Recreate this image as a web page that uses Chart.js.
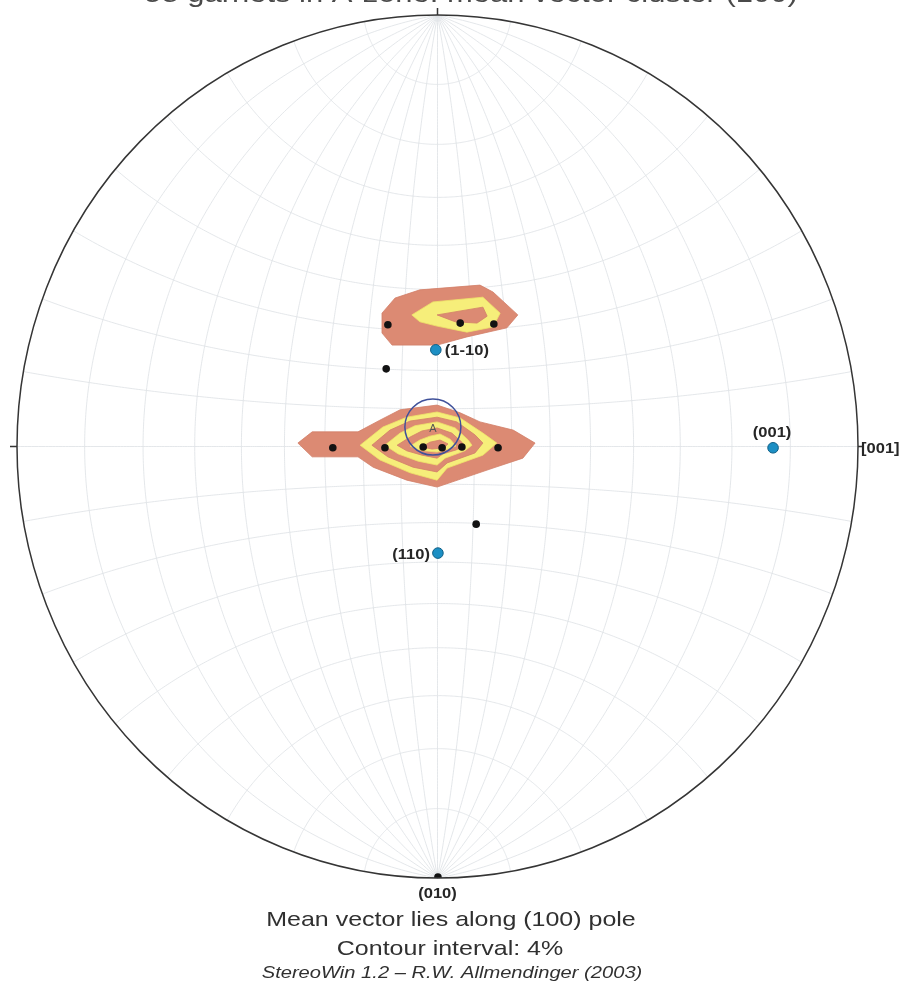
<!DOCTYPE html>
<html>
<head>
<meta charset="utf-8">
<title>Garnet orientations – stereonet</title>
<script src="https://cdn.jsdelivr.net/npm/chart.js@4/dist/chart.umd.min.js"></script>
<style>
  html, body { margin: 0; padding: 0; background: #ffffff; }
  #wrap { position: relative; width: 907px; height: 986px; }
</style>
</head>
<body>
<div id="wrap"><canvas id="net"></canvas></div>
<script>
// Projected positions on the lower-hemisphere stereographic net (unit primitive).
// Poles of the measured garnets
const garnetPoles = [
  [-0.118, 0.282], [0.054, 0.286], [0.134, 0.284],
  [-0.122, 0.180],
  [-0.249, -0.003], [-0.125, -0.003], [-0.034, -0.001], [0.011, -0.003], [0.058, -0.001], [0.144, -0.003],
  [0.092, -0.180],
  [0.001, -0.998]
];

// Host-crystal reference poles and their labels
const refPoleLabels = ['(1-10)', '(110)', '(001)'];
const refPoles = [[-0.004, 0.224], [0.001, -0.247], [0.798, -0.003]];

// Labels set on the primitive
const primitiveLabels = ['[001]', '(010)'];
const primitivePoints = [[1, 0], [0, -1]];

// Mean vector with its label
const meanVector = [-0.011, 0.045];
const meanLabel = 'A';

// Density contours (4 % interval), upper cluster: outer, band, core
const upperContour1 = [[-0.132,0.309],[-0.101,0.344],[-0.042,0.363],[0.101,0.374],[0.132,0.358],[0.191,0.305],[0.165,0.275],[0.070,0.254],[-0.001,0.235],[-0.108,0.235],[-0.132,0.263]];
const upperContour2 = [[-0.061,0.305],[-0.011,0.335],[0.108,0.346],[0.149,0.309],[0.132,0.277],[0.070,0.265],[-0.001,0.279],[-0.042,0.289]];
const upperContour3 = [[-0.001,0.305],[0.108,0.323],[0.118,0.302],[0.094,0.286],[0.042,0.289]];

// Density contours, central cluster, from the 4 % line inwards
const centralContour1 = [[-0.332,0.008],[-0.298,0.034],[-0.189,0.034],[-0.137,0.061],[-0.089,0.085],[-0.001,0.096],[0.054,0.078],[0.101,0.057],[0.180,0.038],[0.232,0.008],[0.203,-0.027],[0.132,-0.050],[-0.001,-0.094],[-0.073,-0.078],[-0.153,-0.048],[-0.189,-0.024],[-0.298,-0.024]];
const centralContour2 = [[-0.184,0.003],[-0.130,0.045],[-0.073,0.068],[-0.001,0.080],[0.054,0.066],[0.108,0.031],[0.141,0.008],[0.108,-0.020],[0.023,-0.050],[-0.001,-0.078],[-0.065,-0.061],[-0.137,-0.031]];
const centralContour3 = [[-0.156,0.003],[-0.113,0.038],[-0.065,0.059],[-0.001,0.068],[0.046,0.057],[0.089,0.027],[0.108,0.008],[0.089,-0.015],[0.023,-0.038],[-0.001,-0.059],[-0.058,-0.048],[-0.118,-0.024]];
const centralContour4 = [[-0.125,0.003],[-0.089,0.031],[-0.054,0.048],[-0.001,0.057],[0.042,0.043],[0.073,0.015],[0.082,0.003],[0.065,-0.010],[0.018,-0.027],[-0.001,-0.043],[-0.046,-0.034],[-0.094,-0.017]];
const centralContour5 = [[-0.096,0.003],[-0.065,0.022],[-0.037,0.036],[-0.001,0.043],[0.034,0.031],[0.058,0.010],[0.063,0.001],[0.044,-0.008],[0.013,-0.017],[-0.001,-0.027],[-0.037,-0.020],[-0.073,-0.010]];
const centralContour6 = [[-0.065,0.001],[-0.042,0.015],[-0.018,0.024],[0.006,0.029],[0.030,0.017],[0.044,0.001],[0.025,-0.006],[-0.001,-0.013],[-0.030,-0.010],[-0.051,-0.006]];
const centralContour7 = [[-0.037,-0.001],[-0.018,0.010],[0.006,0.015],[0.025,0.006],[0.015,-0.003],[-0.013,-0.006]];

// Text
const titleText = '58 garnets in A-zone: mean vector cluster (100)';
const captionLines = ['Mean vector lies along (100) pole', 'Contour interval: 4%'];
const creditText = 'StereoWin 1.2 \u2013 R.W. Allmendinger (2003)';

// Net spacing in degrees
const netStep = 10;

const SALMON = '#dc8a73';
const YELLOW = '#f6ee7a';

const toXY = arr => arr.map(([x, y]) => ({x, y}));
const closed = arr => toXY(arr.concat([arr[0]]));

function contour(arr, color, order) {
  return {
    type: 'scatter',
    data: closed(arr),
    showLine: true,
    fill: 'shape',
    backgroundColor: color,
    borderColor: color === SALMON ? '#d27f68' : '#efe36a',
    borderWidth: 0.8,
    pointRadius: 0,
    tension: 0,
    order
  };
}

// Text drawn slightly widened, as in the plotting program's output
function wideText(ctx, text, x, y, sx) {
  ctx.save();
  ctx.translate(x, y);
  ctx.scale(sx, 1);
  ctx.fillText(text, 0, 0);
  ctx.restore();
}

// Wulff net, primitive, ticks, labels
const stereonet = {
  id: 'stereonet',
  beforeDatasetsDraw(chart) {
    const {ctx, scales: {x, y}} = chart;
    const px = v => x.getPixelForValue(v);
    const py = v => y.getPixelForValue(v);
    const proj = (vx, vy, vz) => [vx / (1 + vz), vy / (1 + vz)];
    const stroke = pts => {
      ctx.beginPath();
      pts.forEach(([a, b], i) => i ? ctx.lineTo(px(a), py(b)) : ctx.moveTo(px(a), py(b)));
      ctx.stroke();
    };
    ctx.save();
    ctx.strokeStyle = '#dde1e4';
    ctx.lineWidth = 0.8;
    // great circles through the N and S points
    for (let d = -90 + netStep; d < 90; d += netStep) {
      const f = d * Math.PI / 180, pts = [];
      for (let i = 0; i <= 360; i++) {
        const t = i * Math.PI / 360;
        pts.push(proj(Math.sin(t) * Math.sin(f), Math.cos(t), Math.sin(t) * Math.cos(f)));
      }
      stroke(pts);
    }
    // small circles about the N-S axis
    for (let b = netStep; b < 180; b += netStep) {
      const be = b * Math.PI / 180, pts = [];
      for (let i = 0; i <= 360; i++) {
        const s = (i - 180) * Math.PI / 360;
        pts.push(proj(Math.sin(be) * Math.sin(s), Math.cos(be), Math.sin(be) * Math.cos(s)));
      }
      stroke(pts);
    }
    ctx.restore();
  },
  afterDatasetsDraw(chart) {
    const {ctx, scales: {x, y}} = chart;
    const cx = x.getPixelForValue(0), cy = y.getPixelForValue(0);
    const rx = x.getPixelForValue(1) - cx, ry = cy - y.getPixelForValue(1);
    ctx.save();
    ctx.strokeStyle = '#353535';
    ctx.lineWidth = 1.5;
    ctx.beginPath();
    ctx.ellipse(cx, cy, rx, ry, 0, 0, Math.PI * 2);
    ctx.stroke();
    // cardinal ticks
    ctx.beginPath();
    ctx.moveTo(cx, cy - ry); ctx.lineTo(cx, cy - ry - 7);
    ctx.moveTo(cx - rx, cy); ctx.lineTo(cx - rx - 7, cy);
    ctx.moveTo(cx + rx, cy); ctx.lineTo(cx + rx + 4, cy);
    ctx.stroke();

    // pole labels
    ctx.fillStyle = '#262626';
    ctx.font = 'bold 14px "Liberation Sans", Arial, sans-serif';
    const SX = 1.18;
    const P = ([a, b]) => [x.getPixelForValue(a), y.getPixelForValue(b)];
    let [lx, ly] = P(refPoles[0]);
    ctx.textAlign = 'left'; ctx.textBaseline = 'middle';
    wideText(ctx, refPoleLabels[0], lx + 9, ly + 1, SX);
    [lx, ly] = P(refPoles[1]);
    ctx.textAlign = 'right';
    wideText(ctx, refPoleLabels[1], lx - 8, ly + 2, SX);
    [lx, ly] = P(refPoles[2]);
    ctx.textAlign = 'center'; ctx.textBaseline = 'alphabetic';
    wideText(ctx, refPoleLabels[2], lx - 1, ly - 11, SX);
    [lx, ly] = P(primitivePoints[0]);
    ctx.textAlign = 'left'; ctx.textBaseline = 'middle';
    wideText(ctx, primitiveLabels[0], lx + 3, ly + 3, SX);
    [lx, ly] = P(primitivePoints[1]);
    ctx.textAlign = 'center'; ctx.textBaseline = 'top';
    wideText(ctx, primitiveLabels[1], lx, ly + 9, SX);

    // mean vector label
    [lx, ly] = P(meanVector);
    ctx.font = '11px "Liberation Sans", Arial, sans-serif';
    ctx.fillStyle = '#555';
    ctx.textBaseline = 'middle';
    ctx.fillText(meanLabel, lx, ly + 2);

    // title (runs off the top edge) and captions
    ctx.fillStyle = '#4a4a4a';
    ctx.textAlign = 'center';
    ctx.textBaseline = 'alphabetic';
    ctx.font = '26px "Liberation Sans", Arial, sans-serif';
    wideText(ctx, titleText, 471, 2, 1.19);
    ctx.fillStyle = '#303030';
    ctx.font = '21px "Liberation Sans", Arial, sans-serif';
    wideText(ctx, captionLines[0], 451, 926, 1.19);
    wideText(ctx, captionLines[1], 450, 955, 1.19);
    ctx.font = 'italic 16.5px "Liberation Sans", Arial, sans-serif';
    wideText(ctx, creditText, 452, 978, 1.22);
    ctx.restore();
  }
};

const datasets = [
  {
    type: 'scatter', data: toXY(refPoles), pointRadius: 5.3,
    backgroundColor: '#1c8fc4', borderColor: '#0f5f86', borderWidth: 1, order: 0
  },
  {
    type: 'scatter', data: toXY(garnetPoles), pointRadius: 3.8,
    backgroundColor: '#121212', borderColor: '#121212', borderWidth: 0, order: 1
  },
  {
    type: 'scatter', data: toXY([meanVector]), pointRadius: 28,
    backgroundColor: 'rgba(0,0,0,0)', borderColor: '#3f519a', borderWidth: 1.5, order: 2
  },
  contour(upperContour3, SALMON, 10),
  contour(upperContour2, YELLOW, 11),
  contour(upperContour1, SALMON, 12),
  contour(centralContour7, SALMON, 13),
  contour(centralContour6, YELLOW, 14),
  contour(centralContour5, SALMON, 15),
  contour(centralContour4, YELLOW, 16),
  contour(centralContour3, SALMON, 17),
  contour(centralContour2, YELLOW, 18),
  contour(centralContour1, SALMON, 19)
];

new Chart(document.getElementById('net'), {
  type: 'scatter',
  data: { datasets },
  options: {
    responsive: true,
    maintainAspectRatio: false,
    animation: false,
    events: [],
    layout: { autoPadding: false, padding: { left: 17, right: 49, top: 15, bottom: 108 } },
    scales: {
      x: { type: 'linear', min: -1, max: 1, display: false },
      y: { type: 'linear', min: -1, max: 1, display: false }
    },
    plugins: { legend: { display: false }, tooltip: { enabled: false }, title: { display: false } }
  },
  plugins: [stereonet]
});
</script>
</body>
</html>
